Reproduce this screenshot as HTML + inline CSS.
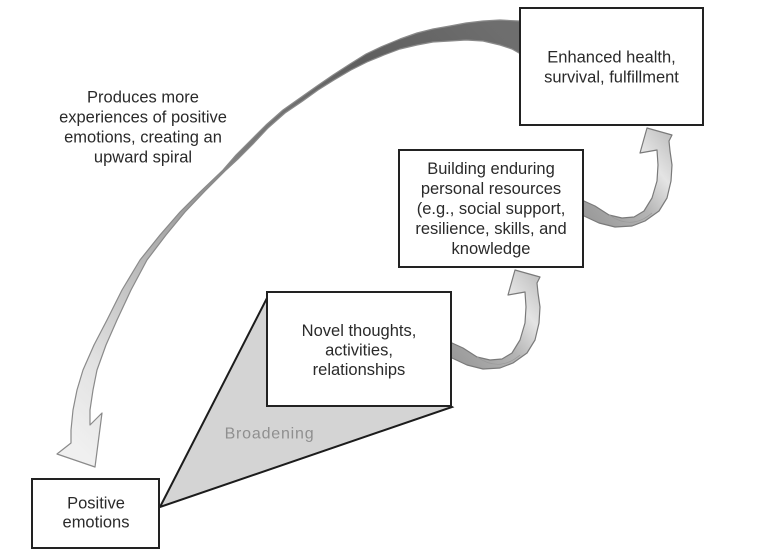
<!DOCTYPE html>
<html>
<head>
<meta charset="utf-8">
<style>
  html, body { margin:0; padding:0; background:#ffffff; }
  body { width:768px; height:558px; overflow:hidden; }
  svg { display:block; }
  .t { font-family: "Liberation Sans", Arial, sans-serif; font-size:16.5px; fill:#2a2a2a; text-anchor:middle; }
</style>
</head>
<body>
<svg width="768" height="558" viewBox="0 0 768 558" xmlns="http://www.w3.org/2000/svg">
  <defs>
    <linearGradient id="bigG" gradientUnits="userSpaceOnUse" x1="500" y1="30" x2="80" y2="450">
      <stop offset="0" stop-color="#6e6e6e"/>
      <stop offset="0.2" stop-color="#5e5e5e"/>
      <stop offset="0.45" stop-color="#7c7c7c"/>
      <stop offset="0.7" stop-color="#b8b8b8"/>
      <stop offset="0.88" stop-color="#e2e2e2"/>
      <stop offset="1" stop-color="#f0f0f0"/>
    </linearGradient>
    <linearGradient id="smG" gradientUnits="userSpaceOnUse" x1="455" y1="360" x2="545" y2="290">
      <stop offset="0" stop-color="#9a9a9a"/>
      <stop offset="0.45" stop-color="#b4b4b4"/>
      <stop offset="0.75" stop-color="#e4e4e4"/>
      <stop offset="1" stop-color="#c4c4c4"/>
    </linearGradient>
  </defs>

  <!-- Big return arc -->
  <polygon fill="url(#bigG)" stroke="#8a8a8a" stroke-width="1.2" stroke-linejoin="round"
    points="530,21 519,21 500,20 483,21 466,23 450,26 433,29 417,33 400,39 383,46 366,54 350,64 333,75 317,86 300,98 283,110 266,125 250,141 236,155 223,170 200,192 180,212 160,235 140,260 122,290 107,320 94,345 83,370 77,390 73,410 71,430 71,443
    57,454 95,467 102,413 90,425
    90,410 93,390 97,370 106,345 117,320 131,290 147,260 166,235 185,212 205,191 226,170 239,158 253,144 268,128 285,113 302,101.5 318,90 334,80 351,70 367,62 384,55 400,49 417,45 433,42 450,41 466,40 483,41 500,45 512,49 519,53 530,60"/>

  <!-- Small arrow: Novel -> Building -->
  <g>
    <polygon fill="url(#smG)" stroke="#7a7a7a" stroke-width="1.2" stroke-linejoin="round"
      points="445,342 452,343 463,348 477,357 490,360 502,359 512,353 520,340 525,323 526,307 525,292 508,295 515,270 540,277 537,283 538,293 540,307 539,323 535,340 527,353 513,363 500,368 483,369 467,365 452,358 445,356"/>
    <path d="M 477,357 C 490,366 505,368 520,355" fill="none" stroke="#9a9a9a" stroke-width="0.8"/>
  </g>
  <!-- Small arrow: Building -> Enhanced -->
  <g transform="translate(132,-142)">
    <polygon fill="url(#smG)" stroke="#7a7a7a" stroke-width="1.2" stroke-linejoin="round"
      points="445,342 452,343 463,348 477,357 490,360 502,359 512,353 520,340 525,323 526,307 525,292 508,295 515,270 540,277 537,283 538,293 540,307 539,323 535,340 527,353 513,363 500,368 483,369 467,365 452,358 445,356"/>
    <path d="M 477,357 C 490,366 505,368 520,355" fill="none" stroke="#9a9a9a" stroke-width="0.8"/>
  </g>

  <!-- Broadening triangle -->
  <polygon points="160,507 267,298 452,407" fill="#d4d4d4" stroke="#1c1c1c" stroke-width="2" stroke-linejoin="miter"/>

  <!-- Boxes -->
  <rect x="520" y="8" width="183" height="117" fill="#ffffff" stroke="#222" stroke-width="2"/>
  <rect x="399" y="150" width="184" height="117" fill="#ffffff" stroke="#222" stroke-width="2"/>
  <rect x="267" y="292" width="184" height="114" fill="#ffffff" stroke="#222" stroke-width="2"/>
  <rect x="32" y="479" width="127" height="69" fill="#ffffff" stroke="#222" stroke-width="2"/>

  <!-- Box texts -->
  <text class="t" x="611.5" y="62.5">Enhanced health,</text>
  <text class="t" x="611.5" y="82.5">survival, fulfillment</text>

  <text class="t" x="491" y="174">Building enduring</text>
  <text class="t" x="491" y="194">personal resources</text>
  <text class="t" x="491" y="214">(e.g., social support,</text>
  <text class="t" x="491" y="234">resilience, skills, and</text>
  <text class="t" x="491" y="254">knowledge</text>

  <text class="t" x="359" y="336">Novel thoughts,</text>
  <text class="t" x="359" y="355.5">activities,</text>
  <text class="t" x="359" y="375">relationships</text>

  <text class="t" x="96" y="508.5">Positive</text>
  <text class="t" x="96" y="527.5">emotions</text>

  <!-- Left label -->
  <text class="t" x="143" y="102.5">Produces more</text>
  <text class="t" x="143" y="122.5">experiences of positive</text>
  <text class="t" x="143" y="142.5">emotions, creating an</text>
  <text class="t" x="143" y="162.5">upward spiral</text>

  <!-- Broadening label -->
  <text x="269.5" y="438.5" style="font-family:'Liberation Sans', Arial, sans-serif; font-size:16px; letter-spacing:0.8px; fill:#8f8f8f; text-anchor:middle;">Broadening</text>
</svg>
</body>
</html>
